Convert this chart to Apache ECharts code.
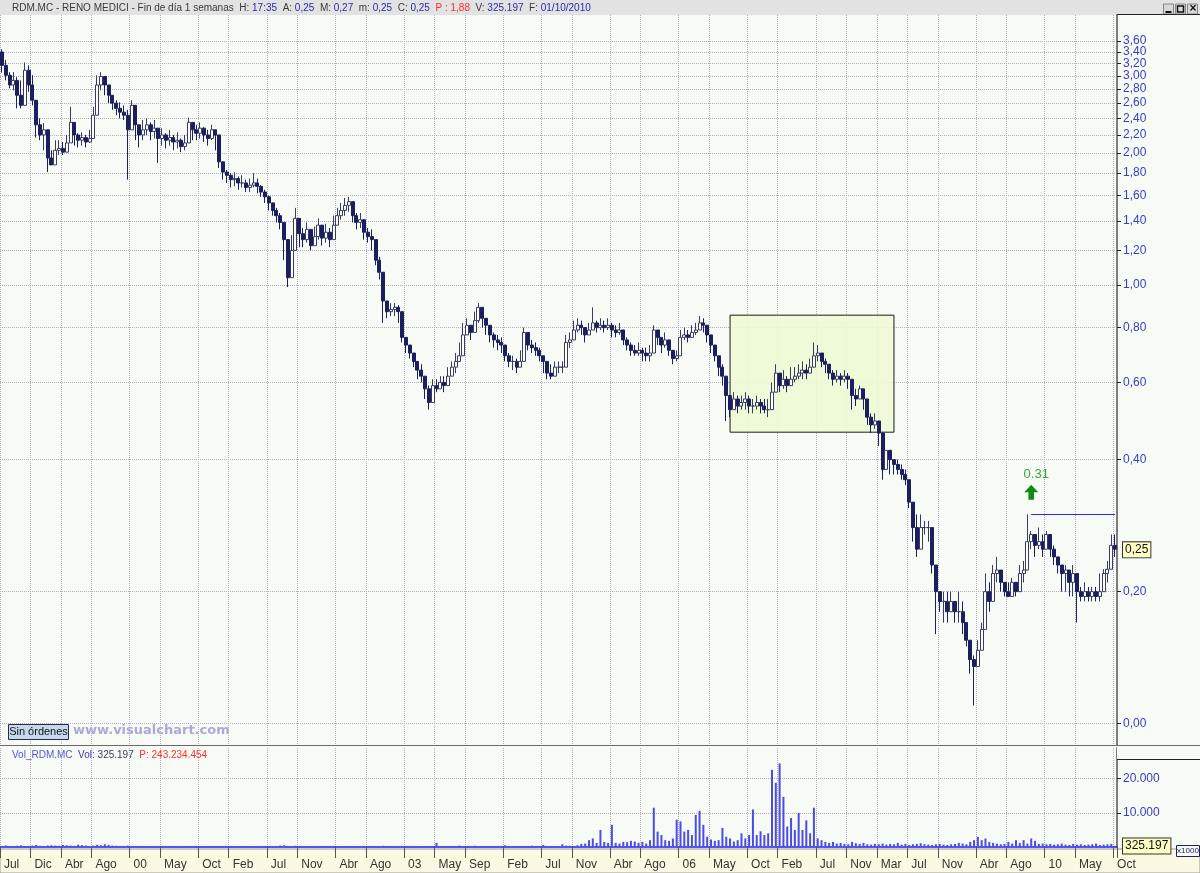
<!DOCTYPE html>
<html><head><meta charset="utf-8">
<script src="https://cdn.jsdelivr.net/npm/echarts@6/dist/echarts.min.js"></script>
<style>html,body{margin:0;padding:0;background:#f6fbf6}#c{width:1200px;height:873px}</style>
</head><body><div id="c"></div>
<script>
// ---------- DATA ----------
const startYear = 1998, startMonth = 8;      // first bin = first half of Aug 1998 (half-month bins)
const firstOpen = 3.40;
const closes = [
3.17,3.01,2.86,2.93,2.71,2.57,3.09,2.86,2.64,2.32,
2.20,2.26,1.95,1.88,2.03,2.05,2.01,2.11,2.35,2.20,
2.14,2.17,2.12,2.16,2.44,2.86,2.99,2.86,2.71,2.60,
2.53,2.48,2.44,2.26,2.57,2.32,2.20,2.26,2.32,2.24,
2.28,2.16,2.20,2.14,2.17,2.12,2.14,2.07,2.11,2.35,
2.26,2.22,2.28,2.20,2.16,2.26,2.20,1.91,1.81,1.78,
1.74,1.75,1.71,1.71,1.67,1.69,1.71,1.68,1.63,1.59,
1.54,1.48,1.44,1.39,1.27,1.04,1.20,1.42,1.31,1.27,
1.34,1.23,1.29,1.37,1.28,1.32,1.27,1.37,1.44,1.48,
1.52,1.55,1.44,1.39,1.41,1.32,1.29,1.27,1.14,1.07,
0.92,0.87,0.88,0.89,0.87,0.76,0.73,0.70,0.67,0.64,
0.62,0.58,0.54,0.59,0.58,0.60,0.59,0.62,0.65,0.67,
0.69,0.77,0.81,0.78,0.83,0.89,0.84,0.81,0.77,0.75,
0.74,0.73,0.69,0.67,0.67,0.65,0.67,0.78,0.73,0.72,
0.71,0.69,0.67,0.63,0.62,0.65,0.65,0.65,0.74,0.75,
0.79,0.81,0.80,0.77,0.79,0.82,0.80,0.81,0.80,0.81,
0.79,0.78,0.79,0.75,0.73,0.71,0.70,0.71,0.70,0.69,
0.70,0.79,0.76,0.73,0.75,0.71,0.68,0.69,0.76,0.77,
0.76,0.78,0.79,0.82,0.81,0.77,0.73,0.69,0.65,0.62,
0.56,0.52,0.55,0.53,0.54,0.55,0.53,0.53,0.54,0.53,
0.52,0.52,0.57,0.63,0.59,0.61,0.59,0.61,0.62,0.63,
0.64,0.63,0.65,0.69,0.70,0.67,0.66,0.63,0.61,0.62,
0.61,0.62,0.61,0.56,0.55,0.58,0.55,0.50,0.48,0.49,
0.46,0.38,0.42,0.40,0.39,0.38,0.37,0.36,0.32,0.28,
0.25,0.28,0.28,0.28,0.23,0.20,0.19,0.19,0.18,0.19,
0.18,0.18,0.17,0.155,0.14,0.135,0.147,0.164,0.20,0.19,
0.22,0.224,0.21,0.20,0.195,0.21,0.20,0.22,0.224,0.26,
0.27,0.255,0.26,0.25,0.27,0.25,0.24,0.23,0.22,0.224,
0.21,0.22,0.20,0.195,0.20,0.195,0.20,0.195,0.20,0.22,
0.225,0.255,0.25];
const highs = [
3.45,3.26,3.06,3.06,2.98,2.93,3.22,3.17,3.01,2.44,
2.40,2.34,2.08,2.03,2.14,2.14,2.12,2.20,2.55,2.28,
2.22,2.23,2.20,2.26,2.55,3.01,3.06,2.96,2.81,2.71,
2.64,2.61,2.57,2.51,2.64,2.40,2.32,2.38,2.40,2.35,
2.38,2.28,2.28,2.22,2.26,2.20,2.23,2.16,2.20,2.41,
2.35,2.32,2.35,2.29,2.26,2.32,2.26,2.14,1.88,1.83,
1.80,1.81,1.77,1.78,1.74,1.75,1.80,1.75,1.69,1.65,
1.60,1.54,1.50,1.46,1.37,1.23,1.30,1.50,1.41,1.35,
1.39,1.34,1.36,1.42,1.37,1.38,1.35,1.44,1.50,1.54,
1.58,1.59,1.52,1.46,1.46,1.39,1.35,1.34,1.21,1.16,
1.01,0.91,0.91,0.91,0.90,0.83,0.75,0.73,0.69,0.67,
0.66,0.60,0.59,0.61,0.61,0.62,0.62,0.65,0.67,0.70,
0.74,0.82,0.84,0.81,0.87,0.91,0.88,0.84,0.80,0.78,
0.77,0.76,0.73,0.70,0.69,0.68,0.71,0.80,0.76,0.75,
0.74,0.72,0.69,0.67,0.66,0.67,0.67,0.67,0.77,0.78,
0.83,0.84,0.83,0.80,0.82,0.89,0.83,0.84,0.83,0.84,
0.82,0.81,0.82,0.78,0.76,0.74,0.73,0.74,0.72,0.72,
0.73,0.81,0.79,0.76,0.78,0.74,0.71,0.71,0.79,0.80,
0.79,0.81,0.82,0.85,0.84,0.81,0.77,0.73,0.69,0.66,
0.61,0.56,0.57,0.56,0.56,0.57,0.56,0.55,0.56,0.55,
0.55,0.55,0.60,0.66,0.62,0.64,0.62,0.65,0.65,0.66,
0.67,0.66,0.68,0.74,0.73,0.70,0.68,0.66,0.64,0.64,
0.63,0.64,0.63,0.60,0.58,0.59,0.58,0.52,0.51,0.51,
0.48,0.44,0.42,0.41,0.40,0.40,0.39,0.38,0.36,0.32,
0.30,0.30,0.29,0.29,0.26,0.22,0.20,0.20,0.20,0.20,
0.19,0.20,0.19,0.17,0.147,0.143,0.155,0.17,0.22,0.21,
0.23,0.24,0.22,0.21,0.21,0.215,0.21,0.23,0.235,0.30,
0.275,0.27,0.28,0.27,0.275,0.265,0.255,0.24,0.23,0.23,
0.215,0.23,0.21,0.205,0.21,0.205,0.205,0.205,0.22,0.225,
0.235,0.27,0.27];
const lows = [
3.05,2.93,2.81,2.78,2.53,2.53,2.78,2.76,2.57,2.17,
2.14,2.03,1.81,1.88,1.96,1.98,1.98,2.03,2.14,2.08,
2.06,2.08,2.06,2.11,2.17,2.51,2.78,2.71,2.60,2.51,
2.44,2.40,2.38,1.74,2.34,2.14,2.06,2.14,2.20,2.14,
2.16,1.90,2.08,2.05,2.08,2.03,2.05,2.01,2.03,2.20,
2.14,2.14,2.16,2.12,2.08,2.14,2.03,1.85,1.74,1.71,
1.67,1.68,1.65,1.67,1.63,1.63,1.67,1.62,1.59,1.54,
1.48,1.44,1.39,1.34,1.14,0.99,1.05,1.27,1.22,1.22,
1.25,1.20,1.23,1.27,1.23,1.25,1.22,1.30,1.37,1.41,
1.44,1.47,1.39,1.34,1.35,1.27,1.25,1.20,1.11,1.03,
0.82,0.84,0.85,0.85,0.82,0.74,0.70,0.68,0.65,0.61,
0.60,0.55,0.52,0.56,0.57,0.58,0.57,0.60,0.62,0.63,
0.67,0.73,0.77,0.75,0.79,0.82,0.80,0.77,0.74,0.72,
0.71,0.70,0.67,0.65,0.64,0.63,0.65,0.73,0.71,0.70,
0.69,0.67,0.63,0.61,0.61,0.63,0.63,0.63,0.71,0.72,
0.76,0.78,0.77,0.74,0.77,0.79,0.78,0.79,0.78,0.79,
0.76,0.76,0.77,0.73,0.71,0.69,0.69,0.69,0.67,0.67,
0.67,0.74,0.73,0.70,0.72,0.69,0.66,0.67,0.73,0.75,
0.74,0.76,0.77,0.79,0.78,0.74,0.70,0.67,0.62,0.59,
0.49,0.50,0.52,0.51,0.52,0.52,0.51,0.51,0.52,0.51,
0.51,0.50,0.53,0.58,0.57,0.58,0.57,0.59,0.60,0.61,
0.61,0.61,0.63,0.66,0.67,0.65,0.63,0.61,0.59,0.60,
0.59,0.60,0.58,0.52,0.53,0.55,0.52,0.48,0.46,0.47,
0.43,0.36,0.38,0.37,0.37,0.37,0.36,0.35,0.31,0.26,
0.24,0.26,0.27,0.26,0.22,0.16,0.18,0.17,0.17,0.18,
0.17,0.17,0.16,0.15,0.13,0.11,0.135,0.147,0.18,0.18,
0.195,0.21,0.20,0.195,0.195,0.20,0.195,0.20,0.21,0.24,
0.25,0.24,0.25,0.24,0.25,0.24,0.23,0.22,0.20,0.20,
0.195,0.195,0.17,0.19,0.19,0.19,0.19,0.19,0.19,0.20,
0.21,0.235,0.24];
const volumes = [
300,450,250,200,350,500,300,250,400,600,
350,300,450,500,400,350,600,500,400,350,
700,550,450,300,400,650,500,800,600,400,
350,300,250,400,300,200,250,300,200,250,
200,150,200,250,300,200,150,200,300,250,
200,300,250,200,150,200,300,250,200,150,
200,250,150,200,300,250,200,150,200,250,
300,250,200,400,500,300,250,350,300,200,
250,200,150,200,250,300,200,150,200,250,
300,200,150,200,250,200,150,200,300,250,
350,300,250,200,150,200,250,200,150,200,
250,300,250,200,1200,250,200,300,250,200,
400,300,250,200,350,250,300,200,250,300,
200,250,500,300,200,250,300,200,250,400,
300,250,600,300,250,200,300,800,400,350,
300,500,900,1000,2000,2500,1200,5000,1500,1200,
6500,1200,1000,1500,1400,1800,1600,1200,1500,1000,
2000,11500,4500,3500,2000,1800,2500,8000,7500,4500,
5000,3500,9400,10600,6500,3000,2200,1800,2000,5600,
3000,2500,1600,2000,4000,2500,3500,11000,3500,4600,
3500,4000,22600,18800,24500,14700,6000,8500,5000,10000,
5000,7800,4000,11500,2500,2000,1500,1200,1500,1000,
1200,900,800,1500,1100,900,1200,800,700,900,
800,1000,700,900,800,1200,700,900,600,800,
900,1100,800,700,600,800,900,700,600,800,
900,1200,1000,800,1500,2000,3000,2000,2500,1500,
1200,1000,800,900,1500,1000,2000,1200,2000,1000,
2500,1800,900,1000,800,900,700,800,1000,700,
600,900,700,800,600,700,800,1000,600,700,
800,900,325];
const priceMin = 0.0894, priceMax = 4.13;
const priceTicks = [3.6,3.4,3.2,3.0,2.8,2.6,2.4,2.2,2.0,1.8,1.6,1.4,1.2,1.0,0.8,0.6,0.4,0.2,0.1];
const priceTickLabels = ['3,60','3,40','3,20','3,00','2,80','2,60','2,40','2,20','2,00','1,80','1,60','1,40','1,20','1,00','0,80','0,60','0,40','0,20','0,00'];
const volMax = 29000;
const volTicks = [10000, 20000];
const volTickLabels = ['10.000', '20.000'];
const monthLabels = ['Jul','Dic','Abr','Ago','00','May','Oct','Feb','Jul','Nov','Abr','Ago','03','May','Sep','Feb','Jul','Nov','Abr','Ago','06','May','Oct','Feb','Jul','Nov','Mar','Jul','Nov','Abr','Ago','10','May','Oct'];
const monthDates = ['1998-07','1998-12','1999-04','1999-08','2000-01','2000-05','2000-10','2001-02','2001-07','2001-11','2002-04','2002-08','2003-01','2003-05','2003-09','2004-02','2004-07','2004-11','2005-04','2005-08','2006-01','2006-05','2006-10','2007-02','2007-07','2007-11','2008-03','2008-07','2008-11','2009-04','2009-08','2010-01','2010-05','2010-10'];
const boxFrom = '2006-07b', boxTo = '2008-05a', boxLow = 0.462, boxHigh = 0.854;
const resistFrom = '2009-11a', resistValue = 0.30, resistText = '0.31', arrowValue = 0.337;
const lastPrice = 0.25, lastPriceText = '0,25';
const lastVol = 325, lastVolText = '325.197';

// ---------- BUILD ----------
const L = Math.log;
const cats = [];
for (let i = 0; i < closes.length; i++) {
  const mi = (startMonth - 1) + Math.floor(i / 2);
  const y = startYear + Math.floor(mi / 12), mo = mi % 12 + 1;
  cats.push(y + '-' + String(mo).padStart(2, '0') + (i % 2 ? 'b' : 'a'));
}
const candles = closes.map((c, i) => {
  const o = i === 0 ? firstOpen : closes[i - 1];
  const lo = Math.min(lows[i], o, c), hi = Math.max(highs[i], o, c);
  return [L(o), L(c), L(lo), L(hi)];
});
function idxOf(ym) {
  const [y, m] = ym.split('-').map(Number);
  return Math.max(0, ((y - startYear) * 12 + (m - startMonth)) * 2);
}
const tickMap = new Map();
monthDates.forEach((d, j) => tickMap.set(idxOf(d), monthLabels[j]));
const isTick = (i) => tickMap.has(i);

const FONT = 'Liberation Sans, Arial, sans-serif';
const GRIDC = '#b9adc4';
const priceLog = priceTicks.map(L);
const priceLogA = priceLog.filter((v, i) => i % 2 === 0);   // split into two interleaved label sets
const priceLogB = priceLog.filter((v, i) => i % 2 === 1);   // so close labels are never overlap-hidden
const priceLabel = (v) => { const j = priceLog.findIndex(t => Math.abs(t - v) < 1e-6); return j >= 0 ? priceTickLabels[j] : ''; };
const volLabel = (v) => { const j = volTicks.indexOf(v); return j >= 0 ? volTickLabels[j] : ''; };

const chart = echarts.init(document.getElementById('c'), null, {renderer: 'canvas'});
const arrowPath = 'path://M5,0 L10,5.5 L7,5.5 L7,11 L3,11 L3,5.5 L0,5.5 Z';
const boxLabel = {show: true, position: 'end', distance: 6, color: '#111', fontSize: 12, fontFamily: FONT,
                  backgroundColor: '#ffffc4', borderColor: '#333', borderWidth: 1, padding: [2, 2, 1, 2]};
const priceAxis = (vals, showLine) => ({
  type: 'value', gridIndex: 0, position: 'right', min: L(priceMin), max: L(priceMax),
  axisLine: {show: showLine, lineStyle: {color: '#7c7c7c', width: 2}},
  axisTick: {show: true, customValues: vals, length: 4, lineStyle: {color: '#222'}},
  axisLabel: {show: true, customValues: vals, formatter: priceLabel, color: '#3b3bc4', fontSize: 12, fontFamily: FONT, margin: 6,
              showMinLabel: true, showMaxLabel: true},
  splitLine: {show: true, lineStyle: {type: 'dotted', color: GRIDC}}
});

chart.setOption({
  animation: false,
  backgroundColor: '#f6fbf6',
  grid: [
    {left: 0, top: 15, width: 1117, height: 730},
    {left: 0, top: 748, width: 1117, height: 99}
  ],
  xAxis: [
    {type: 'category', gridIndex: 0, data: cats, boundaryGap: true,
     axisLine: {show: false}, axisTick: {show: false}, axisLabel: {show: false},
     splitLine: {show: true, interval: isTick, lineStyle: {type: 'dotted', color: GRIDC}}},
    {type: 'category', gridIndex: 1, data: cats, boundaryGap: true,
     axisLine: {show: true, onZero: false, lineStyle: {color: '#1f1fff', width: 1.5}},
     axisTick: {show: true, interval: isTick, length: 11, inside: false, lineStyle: {color: '#555'}},
     axisLabel: {show: true, interval: isTick, formatter: (v, i) => tickMap.get(i) || '', align: 'left',
                 margin: 12, color: '#333', fontSize: 12, fontFamily: FONT, padding: [0, 0, 0, 2]},
     splitLine: {show: true, interval: isTick, lineStyle: {type: 'dotted', color: GRIDC}}}
  ],
  yAxis: [
    priceAxis(priceLogA, true),
    {type: 'value', gridIndex: 1, position: 'right', min: 0, max: volMax,
     axisLine: {show: true, lineStyle: {color: '#7c7c7c', width: 2}},
     axisTick: {show: true, customValues: volTicks, length: 4, lineStyle: {color: '#222'}},
     axisLabel: {show: true, customValues: volTicks, formatter: volLabel, color: '#3b3bc4', fontSize: 12, fontFamily: FONT, margin: 6},
     splitLine: {show: true, lineStyle: {type: 'dotted', color: GRIDC}}},
    priceAxis(priceLogB, false)
  ],
  series: [
    {type: 'candlestick', xAxisIndex: 0, yAxisIndex: 0, data: candles, barWidth: 3.5, clip: false,
     itemStyle: {color: '#ffffff', color0: '#1b1f5e', borderColor: '#383b62', borderColor0: '#1b1f5e', borderWidth: 1},
     markArea: {silent: true, itemStyle: {color: 'rgba(238,250,212,0.88)', borderColor: '#1a1a1a', borderWidth: 1},
       data: [[{xAxis: boxFrom, yAxis: L(boxHigh)}, {xAxis: boxTo, yAxis: L(boxLow)}]]},
     markLine: {silent: true, symbol: 'none', animation: false,
       data: [
         [{coord: [resistFrom, L(resistValue)], lineStyle: {color: '#2a2aff', width: 1, type: 'solid'}, label: {show: false}},
          {coord: [cats[cats.length - 1], L(resistValue)]}],
         {yAxis: L(lastPrice), lineStyle: {color: 'rgba(0,0,0,0)', width: 0}, label: Object.assign({formatter: lastPriceText}, boxLabel)}
       ]},
     markPoint: {silent: true, animation: false,
       data: [{coord: [resistFrom, L(arrowValue)], symbol: arrowPath, symbolSize: [14, 15], itemStyle: {color: '#128a12'},
               label: {show: true, position: 'top', distance: 4, formatter: resistText, color: '#3aa63a', fontSize: 13, fontFamily: FONT, offset: [5, 0]}}]}
    },
    {type: 'bar', xAxisIndex: 1, yAxisIndex: 1, data: volumes, barWidth: 2,
     itemStyle: {color: '#4b4be6'},
     markLine: {silent: true, symbol: 'none', animation: false,
       data: [{yAxis: lastVol, lineStyle: {color: 'rgba(0,0,0,0)', width: 0}, label: Object.assign({formatter: lastVolText}, boxLabel)}]}
    }
  ],
  graphic: [
    {type: 'rect', z: -5, shape: {x: 0, y: 0, width: 1200, height: 15}, style: {fill: '#e2e2e2'}},
    {type: 'rect', z: -5, shape: {x: 0, y: 849, width: 1200, height: 24}, style: {fill: '#fbf9e2', stroke: '#9a9a9a', lineWidth: 1}},
    {type: 'line', z: 50, shape: {x1: 0, y1: 745.5, x2: 1200, y2: 745.5}, style: {stroke: '#6a6a6a', lineWidth: 1}},
    {type: 'line', z: 50, shape: {x1: 1117, y1: 14.5, x2: 1200, y2: 14.5}, style: {stroke: '#222', lineWidth: 1}},
    {type: 'line', z: 50, shape: {x1: 1117, y1: 759.5, x2: 1200, y2: 759.5}, style: {stroke: '#222', lineWidth: 1}},
    {type: 'rect', z: 40, shape: {x: 1117, y: 746, width: 83, height: 13}, style: {fill: '#f6fbf6'}},
    {type: 'text', z: 60, left: 12, top: 3, style: {
      text: '{a|RDM.MC - RENO MEDICI - Fin de día 1 semanas  H: }{v|17:35}{a|  A: }{v|0,25}{a|  M: }{v|0,27}{a|  m: }{v|0,25}{a|  C: }{v|0,25}{r|  P : 1,88}{a|  V: }{v|325.197}{a|  F: }{v|01/10/2010}',
      rich: {a: {fill: '#3a3a3a', fontSize: 10, fontFamily: FONT}, v: {fill: '#2a2aa8', fontSize: 10, fontFamily: FONT}, r: {fill: '#ff2a2a', fontSize: 10, fontFamily: FONT}}}},
    {type: 'text', z: 60, left: 12, top: 750, style: {
      text: '{a|Vol_RDM.MC}{b|  Vol: }{c|325.197}{r|  P: 243.234.454}',
      rich: {a: {fill: '#5656d8', fontSize: 10, fontFamily: FONT}, b: {fill: '#3a3ab8', fontSize: 10, fontFamily: FONT}, c: {fill: '#3a3a5a', fontSize: 10, fontFamily: FONT}, r: {fill: '#ff3030', fontSize: 10, fontFamily: FONT}}}},
    // window buttons
    {type: 'group', z: 60, left: 1163, top: 3, children: [
      {type: 'rect', shape: {x: 0, y: 0, width: 10, height: 10}, style: {fill: '#d8d8d8', stroke: '#888'}},
      {type: 'line', shape: {x1: 2, y1: 8, x2: 8, y2: 8}, style: {stroke: '#111', lineWidth: 2}},
      {type: 'rect', shape: {x: 12, y: 0, width: 10, height: 10}, style: {fill: '#d8d8d8', stroke: '#888'}},
      {type: 'rect', shape: {x: 14, y: 2, width: 6, height: 6}, style: {fill: 'none', stroke: '#111', lineWidth: 1.5}},
      {type: 'rect', shape: {x: 24, y: 0, width: 10, height: 10}, style: {fill: '#d8d8d8', stroke: '#888'}},
      {type: 'text', x: 26, y: -1, style: {text: '×', fill: '#111', fontSize: 12, fontWeight: 'bold', fontFamily: FONT}}
    ]},
    {type: 'group', z: 60, left: 1163, top: 746, children: [
      {type: 'rect', shape: {x: 0, y: 0, width: 10, height: 10}, style: {fill: '#d8d8d8', stroke: '#888'}},
      {type: 'line', shape: {x1: 2, y1: 8, x2: 8, y2: 8}, style: {stroke: '#111', lineWidth: 2}},
      {type: 'rect', shape: {x: 12, y: 0, width: 10, height: 10}, style: {fill: '#d8d8d8', stroke: '#888'}},
      {type: 'rect', shape: {x: 14, y: 2, width: 6, height: 6}, style: {fill: 'none', stroke: '#111', lineWidth: 1.5}},
      {type: 'rect', shape: {x: 24, y: 0, width: 10, height: 10}, style: {fill: '#d8d8d8', stroke: '#888'}},
      {type: 'text', x: 26, y: -1, style: {text: '×', fill: '#111', fontSize: 12, fontWeight: 'bold', fontFamily: FONT}}
    ]},
    // Sin órdenes button + watermark
    {type: 'rect', z: 60, shape: {x: 8.5, y: 724.5, width: 60, height: 15}, style: {fill: '#c6d8ee', stroke: '#2a2a4a', lineWidth: 1}},
    {type: 'text', z: 61, x: 38.5, y: 732, style: {text: 'Sin órdenes', fill: '#111', fontSize: 11, fontFamily: FONT, align: 'center', verticalAlign: 'middle'}},
    {type: 'text', z: 60, x: 73, y: 731, style: {text: 'www.visualchart.com', fill: '#a9abd6', fontSize: 13, fontWeight: 'bold', fontFamily: 'DejaVu Sans, sans-serif', verticalAlign: 'middle'}},
    // x1000 tag
    {type: 'rect', z: 60, shape: {x: 1176.5, y: 845.5, width: 23, height: 11}, style: {fill: '#f6fbf6', stroke: '#222060', lineWidth: 1}},
    {type: 'text', z: 61, x: 1188, y: 851, style: {text: 'x1000', fill: '#1a1a60', fontSize: 8, fontFamily: FONT, align: 'center', verticalAlign: 'middle'}}
  ]
});
</script>
</body></html>
